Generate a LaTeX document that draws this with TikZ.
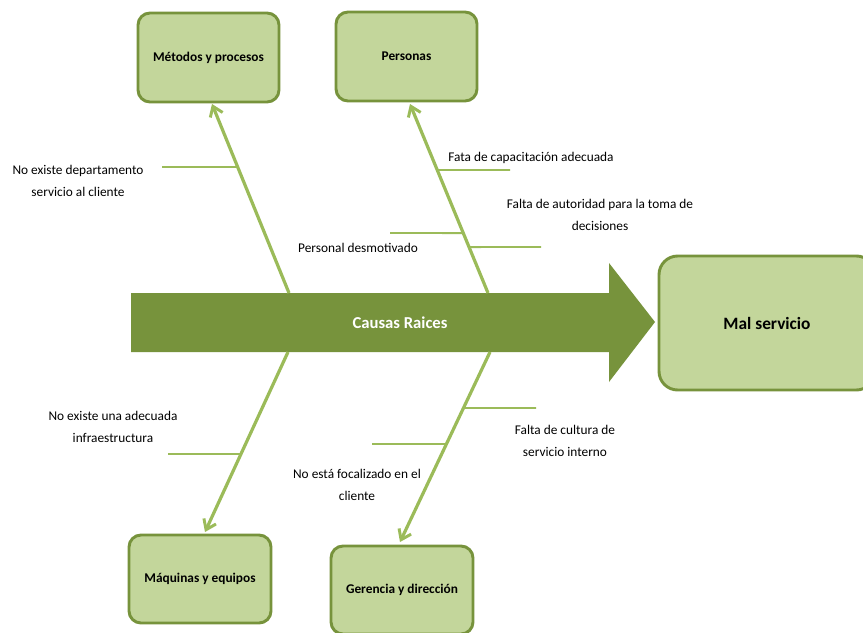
\documentclass[tikz,border=0pt]{standalone}
\usepackage{fontspec}
\setmainfont{Carlito}
\usetikzlibrary{calc,arrows.meta}
\definecolor{boxfill}{HTML}{C3D69B}
\definecolor{boxdraw}{HTML}{77933C}
\definecolor{arrowfill}{HTML}{77933C}
\definecolor{bone}{HTML}{9BBB59}
\tikzset{
  catbox/.style={draw=boxdraw, fill=boxfill, line width=2.2pt, rounded corners=9pt,
    minimum width=#1, font=\fontsize{10}{12}\selectfont\bfseries, inner sep=0pt},
  bonel/.style={draw=bone, line width=2.4pt, -{Straight Barb[length=7pt,width=10pt,line width=2.2pt]}},
  subl/.style={draw=bone, line width=1.4pt},
  lbl/.style={font=\fontsize{10}{16.5}\selectfont, align=center, inner sep=0pt}
}
\begin{document}
\begin{tikzpicture}[x=0.75pt,y=-0.75pt]
\clip (0,0) rectangle (863,632);
\fill[white] (0,0) rectangle (863,632);

% category boxes
\node[catbox=141*0.75pt, minimum height=89*0.75pt] (met) at (208.5,57.5) {Métodos y procesos};
\node[catbox=141*0.75pt, minimum height=89*0.75pt] (per) at (406.5,56.5) {Personas};
\node[catbox=142*0.75pt, minimum height=88*0.75pt] (maq) at (200,579) {Máquinas y equipos};
\node[catbox=142*0.75pt, minimum height=88*0.75pt] (ger) at (402,590) {Gerencia y dirección};
\node[catbox=216*0.75pt, minimum height=134*0.75pt, rounded corners=14pt,
  font=\fontsize{13}{15}\selectfont\bfseries] (mal) at (767,323) {Mal servicio};

% main arrow
\fill[arrowfill] (131,293) -- (609,293) -- (609,263) -- (655,322) -- (609,382) -- (609,352) -- (131,352) -- cycle;
\node[font=\fontsize{12.5}{15}\selectfont\bfseries, text=white] (causas) at (400,323) {Causas Raices};

% bone anchor coordinates
\coordinate (ulA) at (289,293);
\coordinate (urA) at (488,293);
\coordinate (llA) at (288,352);
\coordinate (lrA) at (490,352);
\coordinate (ulT) at (212,104);
\coordinate (urT) at (410,104);
\coordinate (llT) at (205,532);
\coordinate (lrT) at (400,542);

% bones
\draw[bonel] (ulA) -- (ulT);
\draw[bonel] (urA) -- (urT);
\draw[bonel] (llA) -- (llT);
\draw[bonel] (lrA) -- (lrT);

% sub-bone free ends
\coordinate (s1) at (162,167);
\coordinate (s2) at (510,170);
\coordinate (s3) at (390,233);
\coordinate (s4) at (541,247);
\coordinate (s5) at (168,454);
\coordinate (s6) at (536,408);
\coordinate (s7) at (372,444);

\draw[subl] ($(ulA)!0.667!(ulT)$) -- (s1);
\draw[subl] ($(urA)!0.651!(urT)$) -- (s2);
\draw[subl] ($(urA)!0.317!(urT)$) -- (s3);
\draw[subl] ($(urA)!0.243!(urT)$) -- (s4);
\draw[subl] ($(llA)!0.567!(llT)$) -- (s5);
\draw[subl] ($(lrA)!0.295!(lrT)$) -- (s6);
\draw[subl] ($(lrA)!0.484!(lrT)$) -- (s7);

% labels
\node[lbl] (t1) at (78,181) {No existe departamento\\servicio al cliente};
\node[lbl] (t2) at (531,158) {Fata de capacitación adecuada};
\node[lbl] (t3) at (600,215) {Falta de autoridad para la toma de\\decisiones};
\node[lbl] (t4) at (358,248) {Personal desmotivado};
\node[lbl] (t5) at (113,427) {No existe una adecuada\\infraestructura};
\node[lbl] (t6) at (565,441) {Falta de cultura de\\servicio interno};
\node[lbl] (t7) at (357,485) {No está focalizado en el\\cliente};
\end{tikzpicture}
\end{document}
